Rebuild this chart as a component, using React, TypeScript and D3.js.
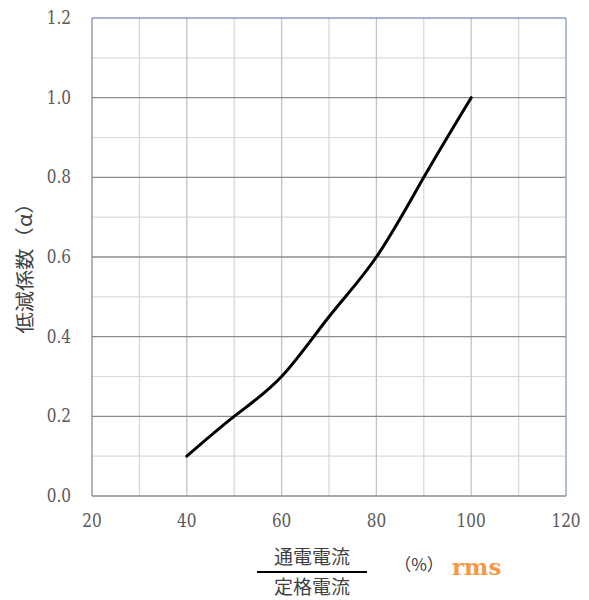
import React from "react";
import * as d3 from "d3";

const xValues = [40, 50, 60, 70, 80, 90, 100];
const yValues = [0.1, 0.2, 0.3, 0.45, 0.6, 0.8, 1.0];
const xTicks = [20, 40, 60, 80, 100, 120];
const yTicks = [0.0, 0.2, 0.4, 0.6, 0.8, 1.0, 1.2];
const xMinor = [30, 50, 70, 90, 110];
const yMinor = [0.1, 0.3, 0.5, 0.7, 0.9, 1.1];

export default function App() {
  const W = 589, H = 600;
  const L = 92, R = 566, T = 18, B = 496;
  const x = d3.scaleLinear().domain([20, 120]).range([L, R]);
  const y = d3.scaleLinear().domain([0, 1.2]).range([B, T]);
  const line = d3.line<number>()
    .x((_, i) => x(xValues[i]))
    .y((d) => y(d))
    .curve(d3.curveNatural);
  const tickFont = "'DejaVu Serif', 'Liberation Serif', serif";
  const cjk = "'Noto Sans CJK JP', sans-serif";
  return (
    <svg width={W} height={H} style={{ position: "absolute", left: 0, top: 0 }}>
      <rect x={0} y={0} width={W} height={H} fill="#fff" />
      {yMinor.map((v) => (
        <line key={"ym" + v} x1={L} x2={R} y1={y(v)} y2={y(v)} stroke="#d9d9d9" strokeWidth={1.2} />
      ))}
      {xMinor.map((v) => (
        <line key={"xm" + v} x1={x(v)} x2={x(v)} y1={T} y2={B} stroke="#d6d6d6" strokeWidth={1.2} />
      ))}
      {xTicks.slice(1, -1).map((v) => (
        <line key={"xM" + v} x1={x(v)} x2={x(v)} y1={T} y2={B} stroke="#c4c4c4" strokeWidth={1.3} />
      ))}
      {yTicks.slice(1, -1).map((v) => (
        <line key={"yM" + v} x1={L} x2={R} y1={y(v)} y2={y(v)} stroke="#8c8c8c" strokeWidth={1.3} />
      ))}
      <line x1={L} x2={L} y1={T} y2={B} stroke="#8c8c8c" strokeWidth={1.3} />
      <line x1={L} x2={R} y1={B} y2={B} stroke="#8c8c8c" strokeWidth={1.3} />
      <line x1={L} x2={R} y1={T} y2={T} stroke="#4a6aa8" strokeWidth={1.2} />
      <line x1={R} x2={R} y1={T} y2={B} stroke="#8ea2c8" strokeWidth={1.4} />
      <path d={line(yValues) || ""} fill="none" stroke="#000" strokeWidth={3} strokeLinecap="round" />
      {yTicks.map((v) => (
        <text key={"yt" + v} transform={`translate(71,${y(v) + 6}) scale(0.85,1)`} textAnchor="end"
          fontFamily={tickFont} fontSize={18} fill="#595959">
          {v.toFixed(1)}
        </text>
      ))}
      {xTicks.map((v) => (
        <text key={"xt" + v} transform={`translate(${x(v)},527) scale(0.85,1)`} textAnchor="middle"
          fontFamily={tickFont} fontSize={18} fill="#595959">
          {v}
        </text>
      ))}
      <text transform="translate(32,263) rotate(-90) scale(1.12,1)" textAnchor="middle"
        fontFamily={cjk} fontSize={19} fill="#404040">
        低減係数（α）
      </text>
      <text x={312} y={564} textAnchor="middle" fontFamily={cjk}
        fontSize={19} fill="#404040">通電電流</text>
      <line x1={257} x2={367} y1={572} y2={572} stroke="#000" strokeWidth={2} />
      <text x={312} y={594} textAnchor="middle" fontFamily={cjk}
        fontSize={19} fill="#404040">定格電流</text>
      <text x={419} y={571} textAnchor="middle" fontFamily={cjk}
        fontSize={17} fill="#404040">（%）</text>
      <text x={452} y={575} fontFamily="'DejaVu Serif', serif" fontWeight="bold"
        fontSize={23} fill="#f79646">rms</text>
    </svg>
  );
}
